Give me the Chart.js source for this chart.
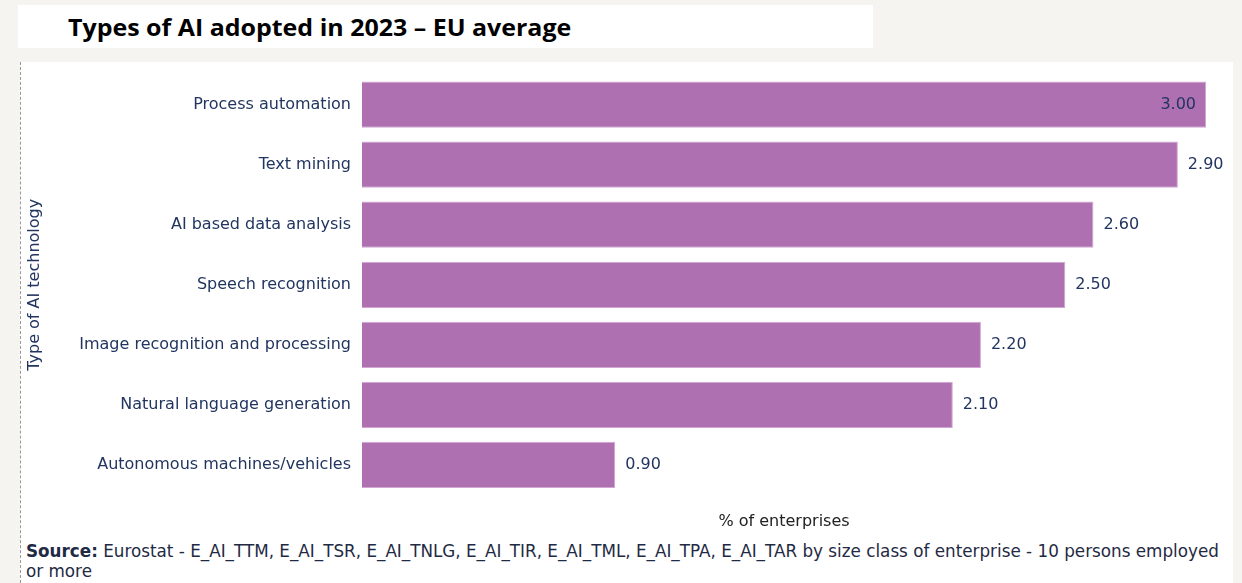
<!DOCTYPE html>
<html lang="en">
<head>
<meta charset="UTF-8">
<title>Types of AI adopted in 2023 - EU average</title>
<script src="https://cdn.jsdelivr.net/npm/chart.js"></script>
<style>
  body { margin: 0; background: #f5f4f0; width: 1242px; height: 583px; position: relative; overflow: hidden; }
  .title-box { position: absolute; left: 18px; top: 5px; width: 855px; height: 43px; background: #fff; }
  .title-box h1 { margin: 0; position: absolute; left: 50px; top: 7px; line-height: 30px; font-family: "Open Sans", sans-serif; font-weight: bold; font-size: 24px; color: #000; white-space: nowrap; transform: scaleX(1.04); transform-origin: left center; }
  .panel { position: absolute; left: 20px; top: 62px; width: 1212px; height: 521px; background: #fff; border-left: 1px dashed #999; }
  .chart-wrap { position: absolute; left: 0; top: 0; width: 1212px; height: 470px; }
  .source { position: absolute; left: 5px; top: 479px; width: 1205px; font-family: "DejaVu Sans", Verdana, sans-serif; font-size: 16.8px; line-height: 20px; color: #1f2a44; }
</style>
</head>
<body>
<div class="title-box"><h1>Types of AI adopted in 2023 – EU average</h1></div>
<div class="panel">
  <div class="chart-wrap"><canvas id="aiChart"></canvas></div>
  <div class="source"><b>Source:</b> Eurostat - E_AI_TTM, E_AI_TSR, E_AI_TNLG, E_AI_TIR, E_AI_TML, E_AI_TPA, E_AI_TAR by size class of enterprise - 10 persons employed or more</div>
</div>
<script>
  const categories = [
    'Process automation',
    'Text mining',
    'AI based data analysis',
    'Speech recognition',
    'Image recognition and processing',
    'Natural language generation',
    'Autonomous machines/vehicles'
  ];
  const shareOfEnterprises = [3.00, 2.90, 2.60, 2.50, 2.20, 2.10, 0.90];

  const fontFamily = '"DejaVu Sans", Verdana, sans-serif';
  const textColor = '#223560';

  // value labels: outside the bar, or inside when there is no room
  const valueLabels = {
    id: 'valueLabels',
    afterDatasetsDraw(chart) {
      const ctx = chart.ctx;
      const meta = chart.getDatasetMeta(0);
      ctx.save();
      ctx.font = '16px ' + fontFamily;
      ctx.fillStyle = textColor;
      ctx.textBaseline = 'middle';
      meta.data.forEach((bar, i) => {
        const txt = shareOfEnterprises[i].toFixed(2);
        const w = ctx.measureText(txt).width;
        if (bar.x + 10 + w > chart.width - 3) {
          ctx.textAlign = 'right';
          ctx.fillText(txt, bar.x - 10, bar.y);
        } else {
          ctx.textAlign = 'left';
          ctx.fillText(txt, bar.x + 10, bar.y);
        }
      });
      ctx.restore();
    }
  };

  new Chart(document.getElementById('aiChart'), {
    type: 'bar',
    data: {
      labels: categories,
      datasets: [{
        data: shareOfEnterprises,
        backgroundColor: '#ae70b0',
        borderColor: '#d2a6d2',
        borderWidth: 1,
        categoryPercentage: 1,
        barPercentage: 0.77
      }]
    },
    options: {
      indexAxis: 'y',
      responsive: true,
      maintainAspectRatio: false,
      animation: false,
      layout: { padding: { top: 8, right: 27, left: 0, bottom: 0 } },
      plugins: { legend: { display: false }, tooltip: { enabled: false } },
      scales: {
        x: {
          min: 0,
          max: 3,
          grid: { display: false },
          border: { display: false },
          ticks: { display: false },
          title: {
            display: true,
            text: '% of enterprises',
            color: '#222',
            font: { family: fontFamily, size: 16 },
            padding: { top: 0, bottom: 1 }
          },
          afterFit(scale) { scale.height = 37; }
        },
        y: {
          grid: { display: false },
          border: { display: false },
          ticks: {
            color: textColor,
            padding: 3,
            font: { family: fontFamily, size: 16 }
          },
          title: {
            display: true,
            text: 'Type of AI technology',
            color: textColor,
            font: { family: fontFamily, size: 16 },
            padding: { top: 4, bottom: 0 }
          },
          afterFit(scale) { scale.width = 341; }
        }
      }
    },
    plugins: [valueLabels]
  });
</script>
</body>
</html>
